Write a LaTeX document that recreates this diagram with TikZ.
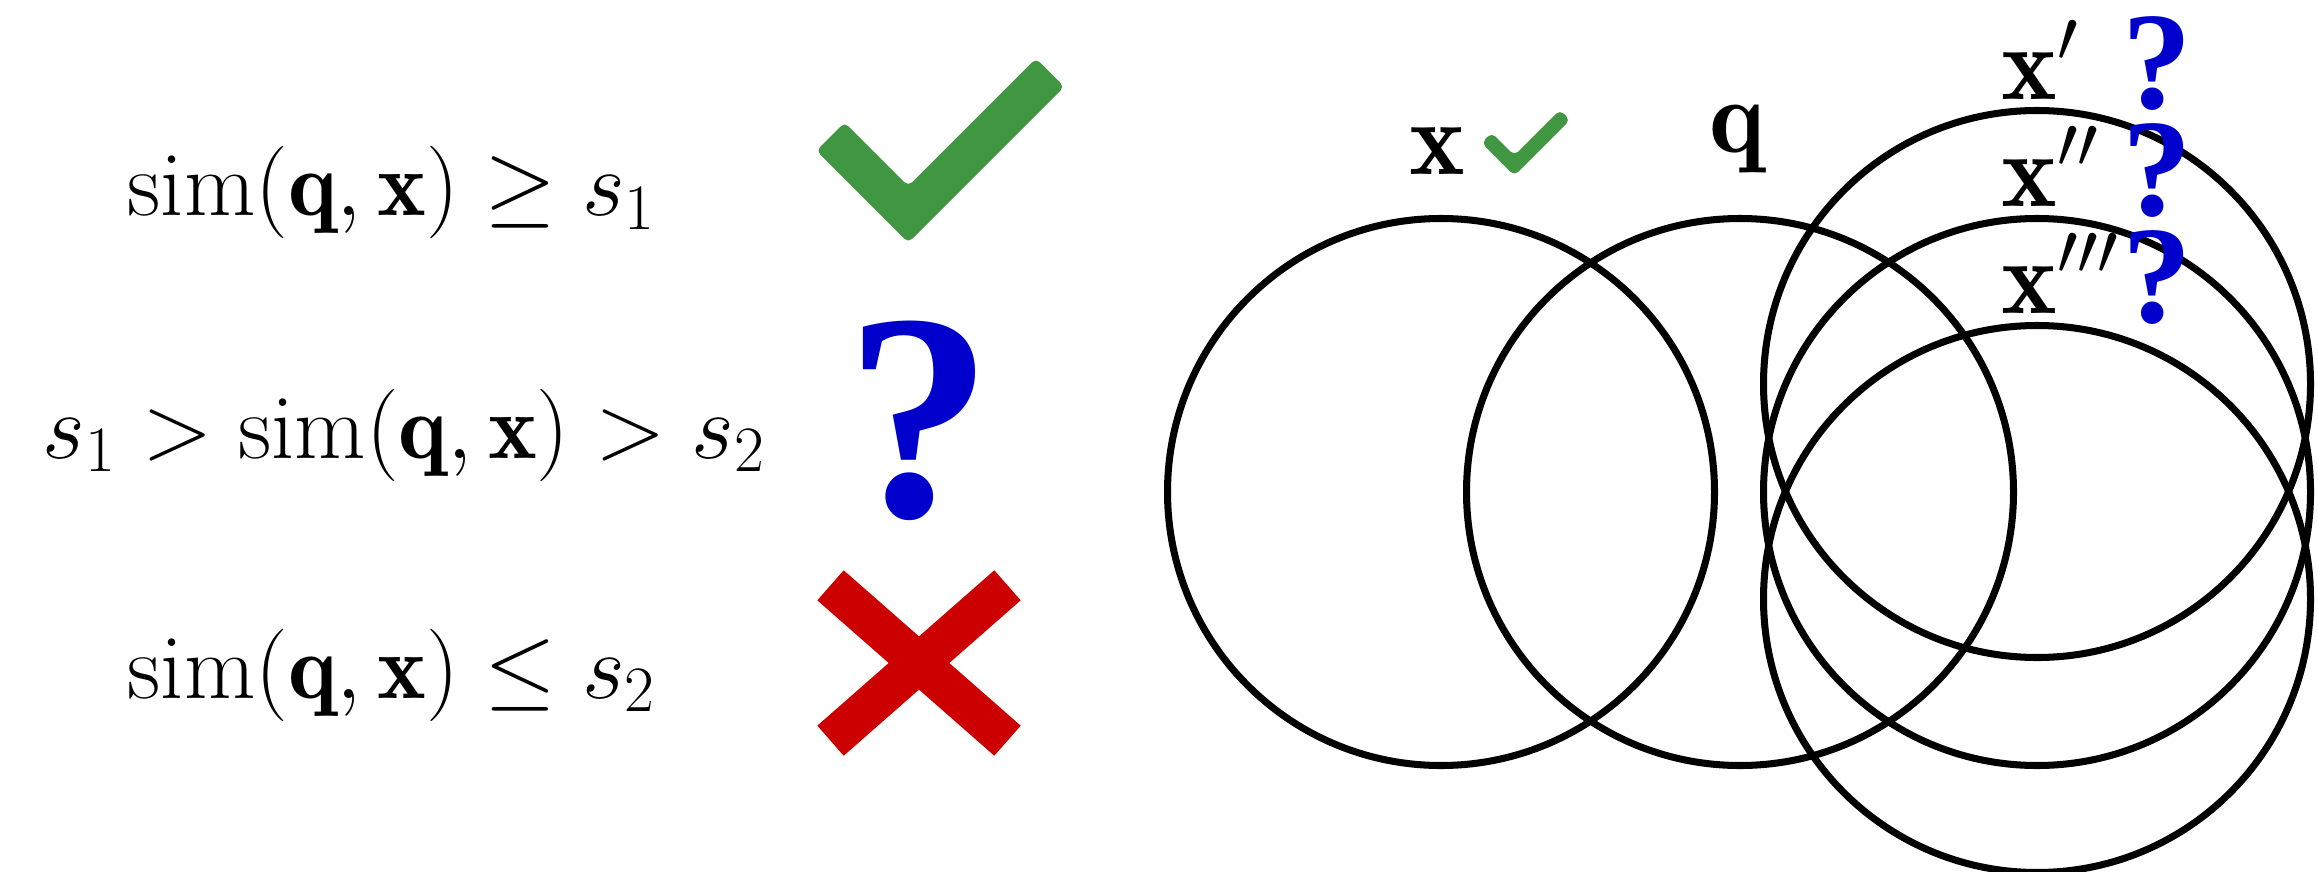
\RequirePackage{fix-cm}
\documentclass[tikz,border=0pt]{standalone}
\usepackage{amsmath,amssymb}
\usepackage{fontspec}
\usepackage{tikz}

\newfontfamily\askfont{Liberation Serif}
\definecolor{okgreen}{RGB}{65,150,65}
\definecolor{askblue}{RGB}{0,0,204}
\definecolor{nored}{RGB}{204,0,0}

\begin{document}
\begin{tikzpicture}[
    ring/.style={
        draw,
        circle,
        line width=2pt,
        minimum size=5.47cm,
        inner sep=0pt
    },
    cond/.style={anchor=base, font=\fontsize{26.3}{31}\selectfont},
    lbl/.style={anchor=base, inner sep=0pt, font=\fontsize{30}{36}\selectfont},
    ask/.style={anchor=base, inner sep=0pt, text=askblue,
        font=\fontsize{39.5}{42}\selectfont\askfont\bfseries},
    tick/.pic={
        \fill[okgreen, rounded corners=1.5pt] (0,0) -- (-0.92,0.92) -- (-0.637,1.203)
            -- (0,0.566) -- (1.277,1.843) -- (1.56,1.56) -- cycle;
    },
    cross/.pic={
        \draw[nored, line width=0.4cm] (-0.885,0.777) -- (0.885,-0.777)
            (0.885,0.777) -- (-0.885,-0.777);
    }
]
\useasboundingbox (0,0) rectangle (23.18,8.71);

% conditions
\node[cond] (hi) at (3.92,6.55) {$\mathrm{sim}(\mathbf{q},\mathbf{x}) \geq s_1$};
\node[cond] (mid) at (4.04,4.13) {$s_1 > \mathrm{sim}(\mathbf{q},\mathbf{x}) > s_2$};
\node[cond] (lo) at (3.92,1.73) {$\mathrm{sim}(\mathbf{q},\mathbf{x}) \leq s_2$};

\pic (yes) at (9.083,6.283) {tick};
\node[ask, font=\fontsize{84}{86}\selectfont\askfont\bfseries] (maybe) at (9.19,3.55) {?};
\pic (no) at (9.19,2.08) {cross};

% circles
\node[ring] (cx) at (14.41,3.79) {};
\node[ring] (cq) at (17.40,3.79) {};
\node[ring] (c1) at (20.37,4.87) {};
\node[ring] (c2) at (20.37,3.79) {};
\node[ring] (c3) at (20.37,2.72) {};

\node[lbl] (lx) at (14.37,6.97) {$\mathbf{x}$};
\pic[scale=0.357] (xyes) at (15.144,6.953) {tick};
\node[lbl] (lq) at (17.37,7.18) {$\mathbf{q}$};

\node[lbl, anchor=base west] (l1) at (20.01,7.71) {$\mathbf{x}'$};
\node[lbl, anchor=base west] (l2) at (20.01,6.65) {$\mathbf{x}''$};
\node[lbl, anchor=base west] (l3) at (20.01,5.58) {$\mathbf{x}'''$};

\node[ask] (q1) at (21.57,7.62) {?};
\node[ask] (q2) at (21.57,6.55) {?};
\node[ask] (q3) at (21.57,5.49) {?};

\end{tikzpicture}
\end{document}
